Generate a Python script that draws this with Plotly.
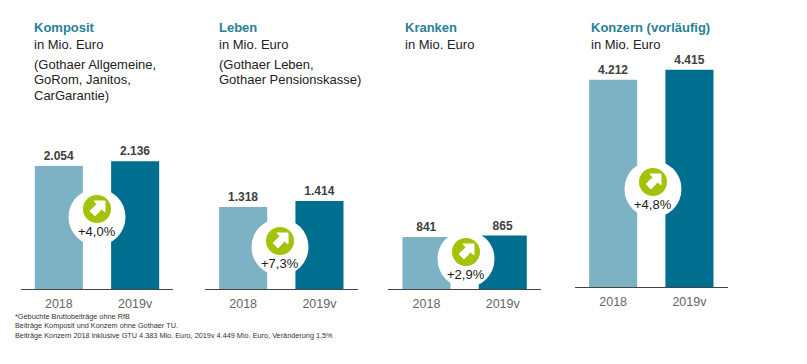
import plotly.graph_objects as go

W, H = 807, 364

# data
years = ["2018", "2019v"]
komposit = [2054, 2136]
leben = [1318, 1414]
kranken = [841, 865]
konzern = [4212, 4415]
changes = ["+4,0%", "+7,3%", "+2,9%", "+4,8%"]
titles = ["Komposit", "Leben", "Kranken", "Konzern (vorläufig)"]
subtitle = "in Mio. Euro"
notes = [["(Gothaer Allgemeine,", "GoRom, Janitos,", "CarGarantie)"],
         ["(Gothaer Leben,", "Gothaer Pensionskasse)"], [], []]
footnotes = ["*Gebuchte Bruttobeiträge ohne RfB",
             "Beiträge Komposit und Konzem ohne Gothaer TU.",
             "Beiträge Konzern 2018 inklusive GTU 4.383 Mio. Euro, 2019v 4.449 Mio. Euro, Veränderung 1,5%"]
series = [komposit, leben, kranken, konzern]

# layout
LIGHT, DARK, GREEN, TEAL = "#7cb2c4", "#006e8f", "#a2c308", "#2a7f99"
FONT = "Liberation Sans"
panels = [
    dict(x0=20.7, base=289.3, scale=0.0600, cx=97, cy=217, gy=209, ty=231, tx=32),
    dict(x0=205, base=289.3, scale=0.0625, cx=280, cy=247, gy=241, ty=263, tx=217),
    dict(x0=388.3, base=289.3, scale=0.0622, cx=466, cy=259, gy=252, ty=274, tx=403),
    dict(x0=575, base=287.3, scale=0.0493, cx=653, cy=189, gy=182, ty=204, tx=589),
]
AXW = 152.6

def fx(p): return p / W
def fy(p): return 1 - p / H

fig = go.Figure()
shapes, annos = [], []
layout = {}
for i, (vals, p) in enumerate(zip(series, panels)):
    suf = "" if i == 0 else str(i + 1)
    fig.add_trace(go.Bar(
        x=years, y=vals, xaxis="x" + suf, yaxis="y" + suf, width=0.63,
        marker=dict(color=[LIGHT, DARK], line_width=0),
        text=[f"<b>{v:,}</b>".replace(",", ".") for v in vals],
        textposition="outside", cliponaxis=False, showlegend=False, hoverinfo="skip",
        textfont=dict(family=FONT, size=12, color="#404040"),
    ))
    layout["xaxis" + suf] = dict(
        domain=[fx(p["x0"]), fx(p["x0"] + AXW)], range=[-0.5, 1.5], type="category",
        anchor="y" + suf, showline=True, linecolor="#444444", linewidth=1, showgrid=False,
        zeroline=False, ticks="", ticklabelstandoff=3,
        tickfont=dict(family=FONT, size=12.5, color="#666666"),
    )
    layout["yaxis" + suf] = dict(
        domain=[fy(p["base"]), 1], range=[0, p["base"] / p["scale"]], anchor="x" + suf,
        visible=False, showgrid=False, zeroline=False,
    )
    c = p["cx"]
    r = 28.5
    shapes.append(dict(type="circle", xref="paper", yref="paper", x0=fx(c - r), x1=fx(c + r),
                       y0=fy(p["cy"] + r), y1=fy(p["cy"] - r), fillcolor="white", line_width=0))
    g = 14
    shapes.append(dict(type="circle", xref="paper", yref="paper", x0=fx(c - g), x1=fx(c + g),
                       y0=fy(p["gy"] + g), y1=fy(p["gy"] - g), fillcolor=GREEN, line_width=0))
    arrow = [(8, -8), (8, 3), (4.5, 0), (-2, 7), (-7, 2), (0, -4.5), (-3, -8)]
    path = "M" + " L".join(f"{fx(c + a):.5f},{fy(p['gy'] + b):.5f}" for a, b in arrow) + " Z"
    shapes.append(dict(type="path", xref="paper", yref="paper", path=path, fillcolor="white",
                       line=dict(color="white", width=1)))
    annos.append(dict(text=changes[i], xref="paper", yref="paper", x=fx(c), y=fy(p["ty"]),
                      showarrow=False, xanchor="center", yanchor="middle",
                      font=dict(family=FONT, size=13, color="#1a1a1a")))
    for txt, yy, col, bold in [(titles[i], 28, TEAL, True), (subtitle, 44, "#222222", False)]:
        annos.append(dict(text=f"<b>{txt}</b>" if bold else txt, xref="paper", yref="paper",
                          x=fx(p["tx"]), y=fy(yy), showarrow=False, xanchor="left", yanchor="middle",
                          font=dict(family=FONT, size=13, color=col)))
    for txt, yy in zip(notes[i], [64, 79.5, 95.5]):
        annos.append(dict(text=txt, xref="paper", yref="paper", x=fx(p["tx"]), y=fy(yy),
                          showarrow=False, xanchor="left", yanchor="middle",
                          font=dict(family=FONT, size=13, color="#222222")))

for line, yy in zip(footnotes, [316, 325.5, 335]):
    annos.append(dict(text=line, xref="paper", yref="paper", x=fx(13), y=fy(yy), showarrow=False,
                      xanchor="left", yanchor="middle", font=dict(family=FONT, size=7.3, color="#333333")))

fig.update_layout(width=W, height=H, margin=dict(l=0, r=0, t=0, b=0), autosize=False,
                  paper_bgcolor="white", plot_bgcolor="white", shapes=shapes, annotations=annos,
                  **layout)
fig.write_html("out.html", config=dict(displayModeBar=False),
               post_script="document.body.style.margin='0';document.documentElement.style.overflow='hidden';")
